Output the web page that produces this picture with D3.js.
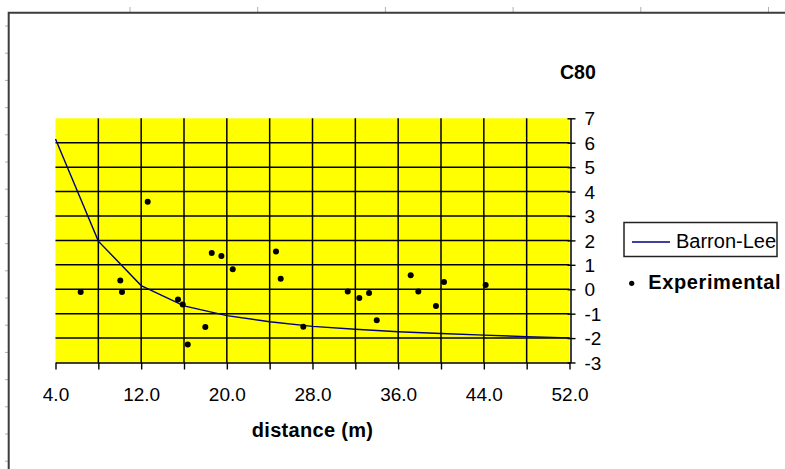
<!DOCTYPE html>
<html><head><meta charset="utf-8">
<script src="https://cdn.jsdelivr.net/npm/d3@7"></script>
<style>body{margin:0;background:#fff} svg{display:block}</style>
</head><body><svg id="c" width="785" height="469"></svg>
<script>
// Barron-Lee prediction curve
const curveX = [4, 8, 12, 16, 20, 24, 28, 32, 36, 40, 44, 48, 52];
const curveY = [6.15, 1.97, 0.15, -0.68, -1.08, -1.33, -1.52, -1.64, -1.74, -1.81, -1.88, -1.94, -1.99];
// Experimental measurements
const expX = [6.35, 10.05, 10.21, 12.61, 15.44, 15.88, 16.35, 17.99, 18.59, 19.49, 20.55, 24.59, 25.03, 27.14, 31.29, 32.37, 33.28, 34.0, 37.17, 37.88, 39.53, 40.28, 44.17];
const expY = [-0.11, 0.36, -0.11, 3.58, -0.42, -0.62, -2.26, -1.55, 1.48, 1.36, 0.82, 1.55, 0.43, -1.54, -0.09, -0.36, -0.15, -1.27, 0.57, -0.09, -0.69, 0.30, 0.17];
const xTicks = [4, 8, 12, 16, 20, 24, 28, 32, 36, 40, 44, 48, 52];
const xLabels = ["4.0", "", "12.0", "", "20.0", "", "28.0", "", "36.0", "", "44.0", "", "52.0"];
const yTicks = [-3, -2, -1, 0, 1, 2, 3, 4, 5, 6, 7];
const title = "C80";
const xTitle = "distance (m)";
const seriesNames = ["Barron-Lee", "Experimental"];

const svg = d3.select("#c");
const x = d3.scaleLinear().domain([4, 52]).range([55.5, 569.5]);
const y = d3.scaleLinear().domain([-3, 7]).range([362.5, 118.3]);
const FONT = "'Liberation Sans', Arial, sans-serif";

// outer frame with ruler marks
const frame = svg.append("g");
for (let k = 0; k < 6; k++) {
  const tx = 130 + 127.7 * k;
  frame.append("line").attr("x1", tx).attr("x2", tx).attr("y1", 7).attr("y2", 12).attr("stroke", "#b0b0b0").attr("stroke-width", 1);
}
for (let k = 0; k < 17; k++) {
  const ty = 26 + 27.2 * k;
  frame.append("line").attr("x1", 5).attr("x2", 8).attr("y1", ty).attr("y2", ty).attr("stroke", "#b0b0b0").attr("stroke-width", 1);
}
frame.append("path").attr("d", "M8.7,469 V12.7 H785").attr("fill", "none").attr("stroke", "#3c3c3c").attr("stroke-width", 2);

// plot area
svg.append("rect").attr("x", x(4)).attr("y", y(7)).attr("width", x(52) - x(4)).attr("height", y(-3) - y(7)).attr("fill", "#ffff00");

// gridlines
const grid = svg.append("g").attr("stroke", "#000").attr("stroke-width", 1.5);
grid.selectAll(".vg").data(xTicks.filter(d => d > 4 && d < 52)).join("line")
  .attr("x1", d => x(d)).attr("x2", d => x(d)).attr("y1", y(7)).attr("y2", y(-3));
grid.selectAll(".hg").data(yTicks.filter(d => d > -3 && d < 7)).join("line")
  .attr("x1", x(4)).attr("x2", x(52)).attr("y1", d => y(d)).attr("y2", d => y(d));

// x axis
const xa = svg.append("g").attr("transform", `translate(0,${y(-3)})`)
  .call(d3.axisBottom(x).tickValues(xTicks).tickSize(7).tickSizeOuter(0)
    .tickFormat((d, i) => xLabels[i]));
xa.select(".domain").attr("stroke", "#000").attr("stroke-width", 1.5);
xa.selectAll(".tick line").attr("stroke", "#000").attr("stroke-width", 1.4);
xa.selectAll(".tick text").attr("font-family", FONT).attr("font-size", 19).attr("fill", "#000")
  .attr("dy", null).attr("y", 38.2);

// y axis on right
const ya = svg.append("g").attr("transform", `translate(${x(52) + 1},0)`)
  .call(d3.axisRight(y).tickValues(yTicks).tickSize(5).tickSizeOuter(0).tickFormat(d => String(d)));
ya.select(".domain").attr("stroke", "#000").attr("stroke-width", 1.5);
ya.selectAll(".tick line").attr("stroke", "#000").attr("stroke-width", 1.4).attr("x1", -3);
ya.selectAll(".tick text").attr("font-family", FONT).attr("font-size", 19).attr("fill", "#000")
  .attr("x", 14).attr("dy", "0.35em").attr("text-anchor", "start");

// curve
const curve = curveX.map((d, i) => [d, curveY[i]]);
svg.append("path").datum(curve)
  .attr("d", d3.line().x(d => x(d[0])).y(d => y(d[1])))
  .attr("fill", "none").attr("stroke", "#000080").attr("stroke-width", 1.4);

// points
svg.append("g").selectAll("circle").data(expX.map((d, i) => [d, expY[i]])).join("circle")
  .attr("cx", d => x(d[0])).attr("cy", d => y(d[1])).attr("r", 3).attr("fill", "#000");

// title
svg.append("text").attr("x", 560).attr("y", 78.5).attr("font-family", FONT).attr("font-size", 19.5)
  .attr("font-weight", "bold").attr("fill", "#000").text(title);

// x title
svg.append("text").attr("x", (x(4) + x(52)) / 2).attr("y", 437).attr("text-anchor", "middle")
  .attr("font-family", FONT).attr("font-size", 20).attr("font-weight", "bold").attr("letter-spacing", 0.3)
  .attr("fill", "#000").text(xTitle);

// legend
const lg = svg.append("g");
lg.append("rect").attr("x", 624).attr("y", 222.5).attr("width", 153).attr("height", 34)
  .attr("fill", "#fff").attr("stroke", "#222").attr("stroke-width", 1.5);
lg.append("line").attr("x1", 632).attr("x2", 670).attr("y1", 242).attr("y2", 242)
  .attr("stroke", "#000080").attr("stroke-width", 1.4);
lg.append("text").attr("x", 676).attr("y", 248.3).attr("font-family", FONT).attr("font-size", 20)
  .attr("fill", "#000").text(seriesNames[0]);
lg.append("circle").attr("cx", 631.7).attr("cy", 283.3).attr("r", 2.6).attr("fill", "#000");
lg.append("text").attr("x", 648.3).attr("y", 289).attr("font-family", FONT).attr("font-size", 20)
  .attr("font-weight", "bold").attr("letter-spacing", 0.6).attr("fill", "#000").text(seriesNames[1]);
</script></body></html>
